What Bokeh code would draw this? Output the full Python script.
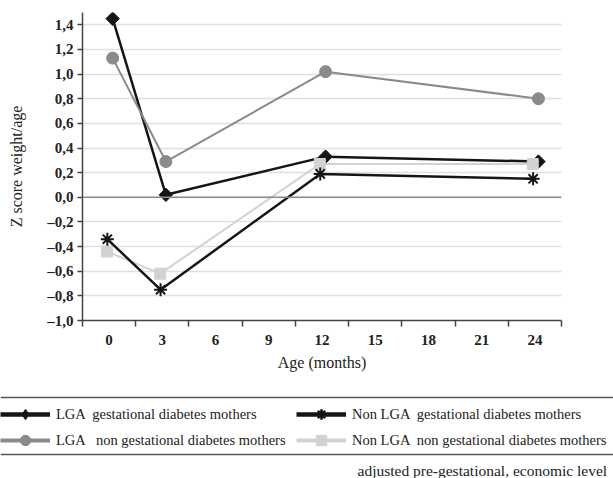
import numpy as np
from bokeh.plotting import figure
from bokeh.layouts import column
from bokeh.models import (FixedTicker, Range1d, Legend, LegendItem, Label, Span,
                          ColumnDataSource)
from bokeh.transform import dodge
from bokeh.embed import file_html
from bokeh.resources import INLINE

ages = [0, 3, 12, 24]
lga_gdm = [1.45, 0.02, 0.33, 0.29]
lga_non_gdm = [1.13, 0.29, 1.02, 0.80]
non_lga_gdm = [-0.34, -0.75, 0.19, 0.15]
non_lga_non_gdm = [-0.44, -0.62, 0.27, 0.27]

x_ticks = [0, 3, 6, 9, 12, 15, 18, 21, 24]
y_ticks = [-1.0, -0.8, -0.6, -0.4, -0.2, 0.0, 0.2, 0.4, 0.6, 0.8, 1.0, 1.2, 1.4]
y_tick_labels = ["\u20131,0", "\u20130,8", "\u20130,6", "\u20130,4", "\u20130,2", "0,0",
                 "0,2", "0,4", "0,6", "0,8", "1,0", "1,2", "1,4"]
names = ["LGA  gestational diabetes mothers",
         "LGA   non gestational diabetes mothers",
         "Non LGA  gestational diabetes mothers",
         "Non LGA  non gestational diabetes mothers"]
note = "adjusted pre-gestational, economic level"

FONT = "Liberation Serif"
BLACK = "#151515"
GRAY = "#8a8a8a"
LIGHT = "#d2d2d2"
TXT = "#222222"

W = 613
p = figure(width=W, height=390, output_backend="svg", toolbar_location=None,
           x_range=Range1d(-1.5, 25.5), y_range=Range1d(-1.0, 1.5),
           min_border_left=82, min_border_right=52, min_border_top=12,
           min_border_bottom=70)
p.outline_line_color = None
p.frame_align = False

src = ColumnDataSource(dict(x=ages, a=lga_gdm, b=lga_non_gdm, c=non_lga_gdm, d=non_lga_non_gdm))

# axes
p.xaxis.ticker = FixedTicker(ticks=x_ticks, minor_ticks=[t - 1.5 for t in x_ticks] + [25.5])
p.xaxis.major_tick_line_color = None
p.xaxis.major_tick_out = 0
p.xaxis.major_tick_in = 0
p.xaxis.minor_tick_line_color = "#444444"
p.xaxis.minor_tick_line_width = 1.5
p.xaxis.minor_tick_out = 6
p.xaxis.minor_tick_in = 0
p.xaxis.axis_line_color = "#444444"
p.xaxis.axis_line_width = 1.5
p.xaxis.major_label_standoff = 8
p.xaxis.major_label_text_font = FONT
p.xaxis.major_label_text_font_style = "bold"
p.xaxis.major_label_text_font_size = "15px"
p.xaxis.major_label_text_color = TXT
p.xaxis.axis_label = "Age (months)"
p.xaxis.axis_label_text_font = FONT
p.xaxis.axis_label_text_font_style = "normal"
p.xaxis.axis_label_text_font_size = "16px"
p.xaxis.axis_label_text_color = TXT
p.xaxis.axis_label_standoff = 6

p.yaxis.ticker = FixedTicker(ticks=y_ticks, minor_ticks=[])
p.yaxis.major_label_overrides = {t: l for t, l in zip(y_ticks, y_tick_labels)}
p.yaxis.major_tick_out = 5
p.yaxis.major_tick_in = 0
p.yaxis.major_tick_line_color = "#444444"
p.yaxis.major_tick_line_width = 1.5
p.yaxis.axis_line_color = "#444444"
p.yaxis.axis_line_width = 1.5
p.yaxis.major_label_standoff = 4
p.yaxis.major_label_text_font = FONT
p.yaxis.major_label_text_font_style = "bold"
p.yaxis.major_label_text_font_size = "15px"
p.yaxis.major_label_text_color = TXT
p.yaxis.axis_label = "Z score weight/age"
p.yaxis.axis_label_text_font = FONT
p.yaxis.axis_label_text_font_style = "normal"
p.yaxis.axis_label_text_font_size = "16px"
p.yaxis.axis_label_text_color = TXT
p.yaxis.axis_label_standoff = 19

p.xgrid.grid_line_color = None
p.ygrid.grid_line_color = "#e0e0e0"
p.ygrid.grid_line_width = 1.5
p.add_layout(Span(location=0, dimension="width", line_color="#8c8c8c", line_width=1.5))

# series: (column, color, line width, marker, size, dodge, legend marker)
styles = [
    ("a", BLACK, 2.5, "square", 9.5, 0.2, "diamond"),
    ("b", GRAY, 2.0, "circle", 12, 0.2, "circle"),
    ("c", BLACK, 2.5, "asterisk", 13, -0.1, "asterisk"),
    ("d", LIGHT, 2.0, "square", 11, -0.12, "square"),
]
draw_order = [0, 1, 3, 2]
for i in draw_order:
    col, colr, lw, mk, sz, dg, lmk = styles[i]
    p.line(dodge("x", dg), col, source=src, line_color=colr, line_width=lw)
    p.scatter(dodge("x", dg), col, source=src, marker=mk, size=sz,
              angle=np.pi / 4 if i == 0 else 0.0,
              fill_color=colr, line_color=colr, line_width=2 if mk == "asterisk" else 1)

# legend panel (its own figure; the series are drawn out of view, only their legend shows)
H2 = 88
q = figure(width=W, height=H2, output_backend="svg", toolbar_location=None,
           x_range=Range1d(1000, 1000 + W), y_range=Range1d(100, 100 + H2),
           min_border_left=0, min_border_right=0, min_border_top=0, min_border_bottom=0)
q.axis.visible = False
q.grid.visible = False
q.outline_line_color = None
q.frame_align = False

items = []
for i in range(4):
    col, colr, lw, mk, sz, dg, lmk = styles[i]
    lr = q.line("x", col, source=src, line_color=colr, line_width=lw + 2)
    mr = q.scatter("x", col, source=src, marker=lmk, size=sz,
                   fill_color=colr, line_color=colr,
                   line_width=2.5 if lmk == "asterisk" else 1)
    items.append(LegendItem(label=names[i], renderers=[lr, mr]))

legend = Legend(items=[items[0], items[2], items[1], items[3]],
                orientation="horizontal", ncols=2, location=(0, 25))
legend.label_text_font = FONT
legend.label_text_font_size = "14.5px"
legend.label_text_color = TXT
legend.glyph_width = 50
legend.glyph_height = 26
legend.label_standoff = 6
legend.label_height = 19
legend.label_width = 240
legend.spacing = 0
legend.padding = 0
legend.margin = 0
legend.border_line_color = None
legend.background_fill_alpha = 0
q.add_layout(legend, "center")

q.add_layout(Span(location=181, dimension="width", line_color="#555555", line_width=1.5))
q.add_layout(Span(location=124, dimension="width", line_color="#555555", line_width=1.5))
q.add_layout(Label(x=357, y=8, x_units="screen", y_units="screen", text=note,
                   text_font=FONT, text_font_size="15.5px", text_color=TXT,
                   text_baseline="middle", text_align="left"))

layout = column(p, q, spacing=0)
open("out.html", "w").write(file_html(layout, INLINE))
